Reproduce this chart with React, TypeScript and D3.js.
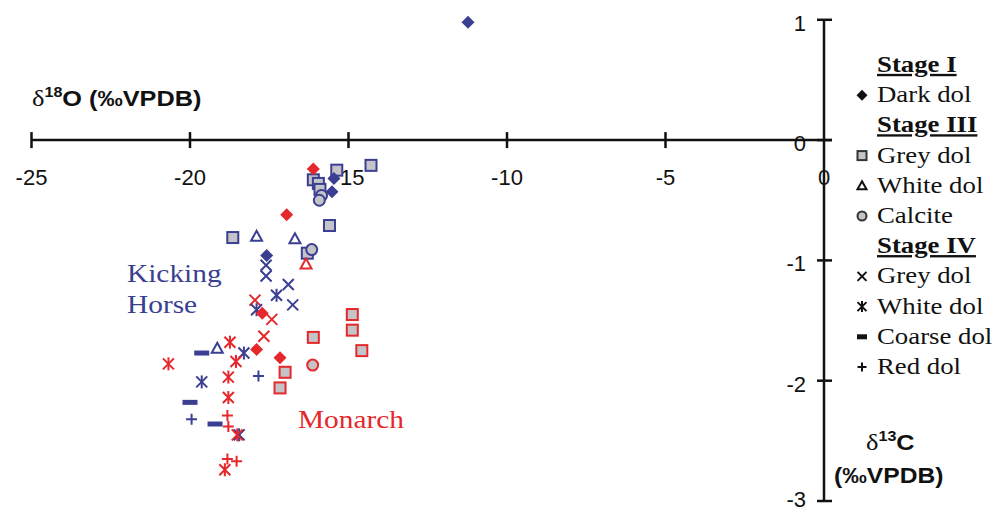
import * as d3 from 'd3';
import React, { useRef, useEffect } from 'react';

type Pt = [number, number];

// values: [d18O, d13C]
const khDarkDol: Pt[] = [[-11.23, 0.98], [-15.46, -0.32], [-15.52, -0.43], [-17.58, -0.96]];
const moDarkDol: Pt[] = [[-16.11, -0.24], [-16.95, -0.62], [-17.72, -1.44], [-17.9, -1.74], [-17.16, -1.81]];
const khGreyDol3: Pt[] = [[-15.37, -0.25], [-14.29, -0.21], [-16.11, -0.33], [-15.95, -0.36], [-15.9, -0.41], [-15.6, -0.71], [-18.65, -0.81], [-16.3, -0.94]];
const moGreyDol3: Pt[] = [[-16.11, -1.64], [-14.88, -1.45], [-14.88, -1.58], [-14.58, -1.75], [-17.0, -1.93], [-17.16, -2.06]];
const khWhiteDol3: Pt[] = [[-17.9, -0.8], [-16.69, -0.82], [-19.14, -1.73]];
const moWhiteDol3: Pt[] = [[-16.34, -1.03]];
const khCalcite: Pt[] = [[-15.85, -0.46], [-15.92, -0.5], [-16.16, -0.91]];
const moCalcite: Pt[] = [[-16.13, -1.87]];
const khGreyDol4: Pt[] = [[-17.6, -1.04], [-17.6, -1.13], [-16.9, -1.2], [-16.76, -1.37]];
const moGreyDol4: Pt[] = [[-17.95, -1.33], [-17.42, -1.49], [-17.67, -1.63]];
const khWhiteDol4: Pt[] = [[-17.27, -1.29], [-17.9, -1.41], [-18.3, -1.77], [-19.63, -2.01], [-18.45, -2.45]];
const moWhiteDol4: Pt[] = [[-18.74, -1.68], [-18.55, -1.84], [-20.68, -1.86], [-18.79, -1.97], [-18.79, -2.14], [-18.51, -2.45], [-18.9, -2.74]];
const khCoarseDol: Pt[] = [[-19.63, -1.77], [-20.0, -2.18], [-19.21, -2.36]];
const khRedDol: Pt[] = [[-17.84, -1.96], [-19.95, -2.32]];
const moRedDol: Pt[] = [[-18.82, -2.29], [-18.79, -2.38], [-18.82, -2.65], [-18.53, -2.67]];

const xTicks = [-25, -20, -15, -10, -5, 0];
const yTicks = [1, 0, -1, -2, -3];

const legendRows = [
  { label: 'Stage I', head: true },
  { label: 'Dark dol', shape: 'diamond' },
  { label: 'Stage III', head: true },
  { label: 'Grey dol', shape: 'square' },
  { label: 'White dol', shape: 'triangle' },
  { label: 'Calcite', shape: 'circle' },
  { label: 'Stage IV', head: true },
  { label: 'Grey dol', shape: 'x' },
  { label: 'White dol', shape: 'star' },
  { label: 'Coarse dol', shape: 'dash' },
  { label: 'Red dol', shape: 'plus' },
];

const BLUE = '#3b3f92';
const RED = '#e5282c';
const GREY = '#c4c4c8';
const SANS = '"Liberation Sans", Arial, sans-serif';
const SERIF = '"Liberation Serif", "Times New Roman", serif';

// draws one marker of the given shape centred on (0,0)
function marker(g, shape, color, s) {
  if (shape === 'diamond') {
    g.append('path').attr('d', `M0,${-s}L${s},0L0,${s}L${-s},0Z`).attr('fill', color);
  } else if (shape === 'square') {
    g.append('rect').attr('x', -s + 1).attr('y', -s + 1).attr('width', 2 * s - 2).attr('height', 2 * s - 2)
      .attr('fill', GREY).attr('stroke', color).attr('stroke-width', 2);
  } else if (shape === 'triangle') {
    g.append('path').attr('d', `M0,${-s + 1}L${s - 1},${s - 2}L${-s + 1},${s - 2}Z`)
      .attr('fill', 'white').attr('stroke', color).attr('stroke-width', 2);
  } else if (shape === 'circle') {
    g.append('circle').attr('r', s - 1).attr('fill', GREY).attr('stroke', color).attr('stroke-width', 2);
  } else if (shape === 'x' || shape === 'star') {
    const a = s - 1;
    g.append('path').attr('d', `M${-a},${-a}L${a},${a}M${-a},${a}L${a},${-a}`)
      .attr('stroke', color).attr('stroke-width', 2).attr('fill', 'none');
    if (shape === 'star') {
      g.append('path').attr('d', `M0,${-a - 1}L0,${a + 1}`).attr('stroke', color).attr('stroke-width', 2);
    }
  } else if (shape === 'dash') {
    g.append('rect').attr('x', -s - 1).attr('y', -2.5).attr('width', 2 * s + 2).attr('height', 5).attr('fill', color);
  } else if (shape === 'plus') {
    const a = s - 1;
    g.append('path').attr('d', `M${-a},0L${a},0M0,${-a}L0,${a}`)
      .attr('stroke', color).attr('stroke-width', 2);
  }
}

// text stretched a little horizontally like the scanned figure
function label(svg, x, y, sx) {
  return svg.append('text').attr('transform', `translate(${x},${y}) scale(${sx},1)`);
}

function IsotopeChart() {
  const ref = useRef(null);

  useEffect(() => {
    const svg = d3.select(ref.current);
    svg.selectAll('*').remove();

    const x = d3.scaleLinear().domain([-25, 0]).range([31.5, 824]);
    const y = d3.scaleLinear().domain([-3, 1]).range([501, 19.8]);

    // axes crossing at origin
    const axes = svg.append('g').attr('stroke', '#111').attr('stroke-width', 2.5);
    axes.append('line').attr('x1', x(-25)).attr('x2', x(0) + 8).attr('y1', y(0)).attr('y2', y(0));
    axes.append('line').attr('x1', x(0)).attr('x2', x(0)).attr('y1', y(1)).attr('y2', y(-3));
    axes.selectAll('.xt').data(xTicks.filter(d => d !== 0)).enter().append('line')
      .attr('x1', d => x(d)).attr('x2', d => x(d)).attr('y1', y(0) - 8).attr('y2', y(0) + 8);
    axes.selectAll('.yt').data(yTicks).enter().append('line')
      .attr('x1', x(0) - 7).attr('x2', x(0) + 8).attr('y1', d => y(d)).attr('y2', d => y(d));

    svg.selectAll('.xl').data(xTicks).enter().append('text')
      .attr('x', d => x(d)).attr('y', y(0) + 45)
      .attr('text-anchor', 'middle').attr('font-family', SANS).attr('font-size', 22).attr('fill', '#111')
      .text(d => d);
    svg.selectAll('.yl').data(yTicks).enter().append('text')
      .attr('x', x(0) - 18).attr('y', d => Math.min(y(d) + 11, 507))
      .attr('text-anchor', 'end').attr('font-family', SANS).attr('font-size', 22).attr('fill', '#111')
      .text(d => d);

    // axis titles
    const t1 = label(svg, 32, 106, 1.15).attr('font-family', SANS)
      .attr('font-weight', 'bold').attr('font-size', 22).attr('fill', '#111');
    t1.append('tspan').attr('font-family', SERIF).attr('font-weight', 'normal').attr('font-size', 23).text('δ');
    t1.append('tspan').attr('font-size', 14).attr('dy', -9).text('18');
    t1.append('tspan').attr('dy', 9).text('O (‰VPDB)');

    const t2 = label(svg, 866, 450, 1.15).attr('font-family', SANS)
      .attr('font-weight', 'bold').attr('font-size', 22).attr('fill', '#111');
    t2.append('tspan').attr('font-family', SERIF).attr('font-weight', 'normal').attr('font-size', 23).text('δ');
    t2.append('tspan').attr('font-size', 14).attr('dy', -9).text('13');
    t2.append('tspan').attr('dy', 9).text('C');
    label(svg, 834, 483, 1.12).attr('font-family', SANS)
      .attr('font-weight', 'bold').attr('font-size', 22).attr('fill', '#111').text('(‰VPDB)');

    // points
    const series = [
      { data: khGreyDol3, shape: 'square', color: BLUE },
      { data: moGreyDol3, shape: 'square', color: RED },
      { data: khCalcite, shape: 'circle', color: BLUE },
      { data: moCalcite, shape: 'circle', color: RED },
      { data: khWhiteDol3, shape: 'triangle', color: BLUE },
      { data: moWhiteDol3, shape: 'triangle', color: RED },
      { data: khGreyDol4, shape: 'x', color: BLUE },
      { data: moGreyDol4, shape: 'x', color: RED },
      { data: khWhiteDol4, shape: 'star', color: BLUE },
      { data: moWhiteDol4, shape: 'star', color: RED },
      { data: khCoarseDol, shape: 'dash', color: BLUE },
      { data: khRedDol, shape: 'plus', color: BLUE },
      { data: moRedDol, shape: 'plus', color: RED },
      { data: khDarkDol, shape: 'diamond', color: BLUE },
      { data: moDarkDol, shape: 'diamond', color: RED },
    ];
    series.forEach(s => {
      s.data.forEach(d => {
        const g = svg.append('g').attr('transform', `translate(${x(d[0])},${y(d[1])})`);
        marker(g, s.shape, s.color, 6.5);
      });
    });

    // group labels
    label(svg, 127, 282, 1.13).attr('font-family', SERIF).attr('font-size', 26)
      .attr('fill', BLUE).text('Kicking');
    label(svg, 127, 313, 1.13).attr('font-family', SERIF).attr('font-size', 26)
      .attr('fill', BLUE).text('Horse');
    label(svg, 298, 428, 1.13).attr('font-family', SERIF).attr('font-size', 26)
      .attr('fill', RED).text('Monarch');

    // legend
    const lg = svg.append('g');
    legendRows.forEach((r, i) => {
      const yy = 72 + i * 30.2;
      const t = label(lg, 877, yy, 1.14).attr('font-family', SERIF)
        .attr('font-size', 23.5).attr('fill', '#111').text(r.label);
      if (r.head) {
        t.attr('font-weight', 'bold').attr('text-decoration', 'underline');
      } else {
        const g = lg.append('g').attr('transform', `translate(862,${yy - 7})`);
        const col = r.shape === 'square' || r.shape === 'circle' ? '#333' : '#111';
        marker(g, r.shape, col, r.shape === 'dash' ? 4 : 5.5);
      }
    });
  }, []);

  return (
    <svg ref={ref} width={1005} height={513}
      style={{ position: 'absolute', left: 0, top: 0, display: 'block', background: 'white' }} />
  );
}

export default function App() {
  return <IsotopeChart />;
}
